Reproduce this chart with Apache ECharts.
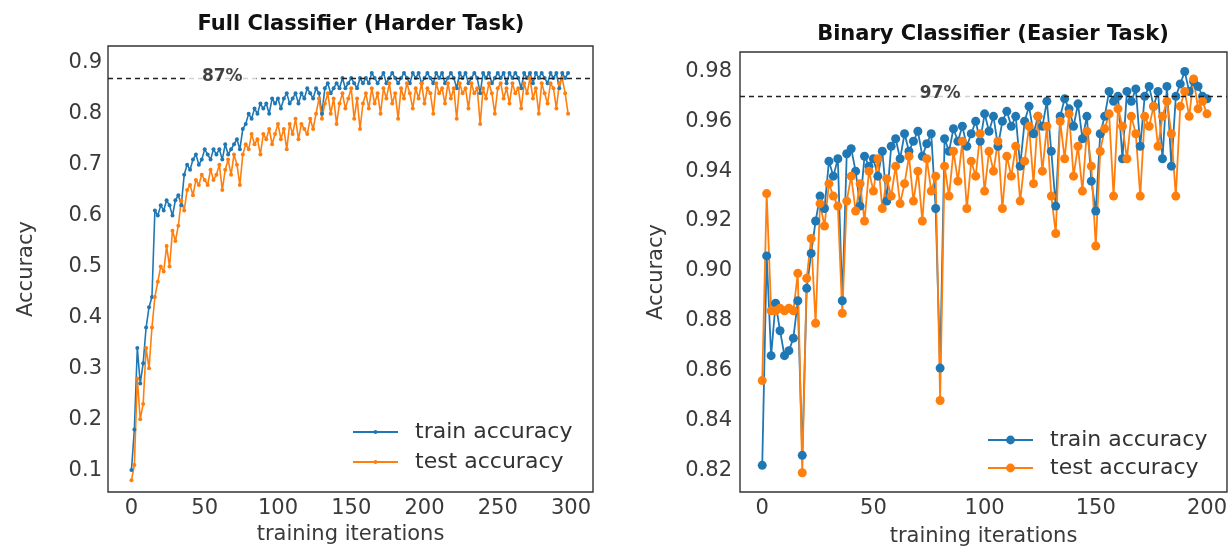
<!DOCTYPE html>
<html>
<head>
<meta charset="utf-8">
<title>Classifier accuracy</title>
<script src="https://cdn.jsdelivr.net/npm/echarts@6/dist/echarts.min.js"></script>
<style>
  html, body { margin: 0; padding: 0; background: #fff; }
  #chart { width: 1230px; height: 552px; }
</style>
</head>
<body>
<div id="chart"></div>
<script>
// ---- left panel: full classifier, one point every 2 iterations (0..298)
var leftStep = 2;
var leftTrain = [
  0.10, 0.18, 0.34, 0.27, 0.31, 0.38, 0.42, 0.44, 0.61, 0.60,   // 0-18
  0.62, 0.61, 0.63, 0.62, 0.60, 0.63, 0.64, 0.62, 0.68, 0.70,   // 20-38
  0.69, 0.71, 0.72, 0.70, 0.71, 0.73, 0.72, 0.71, 0.73, 0.72,   // 40-58
  0.73, 0.71, 0.74, 0.72, 0.73, 0.74, 0.75, 0.73, 0.77, 0.78,   // 60-78
  0.80, 0.79, 0.81, 0.80, 0.82, 0.81, 0.82, 0.80, 0.83, 0.82,   // 80-98
  0.83, 0.81, 0.83, 0.84, 0.82, 0.83, 0.84, 0.82, 0.84, 0.83,   // 100-118
  0.85, 0.84, 0.83, 0.85, 0.84, 0.80, 0.85, 0.86, 0.84, 0.85,   // 120-138
  0.86, 0.85, 0.87, 0.85, 0.86, 0.87, 0.86, 0.85, 0.87, 0.86,   // 140-158
  0.87, 0.86, 0.88, 0.87, 0.86, 0.87, 0.88, 0.86, 0.87, 0.88,   // 160-178
  0.87, 0.86, 0.87, 0.88, 0.87, 0.86, 0.88, 0.87, 0.88, 0.86,   // 180-198
  0.87, 0.88, 0.87, 0.86, 0.88, 0.87, 0.88, 0.86, 0.87, 0.88,   // 200-218
  0.87, 0.85, 0.88, 0.87, 0.88, 0.86, 0.87, 0.88, 0.87, 0.84,   // 220-238
  0.88, 0.87, 0.88, 0.86, 0.87, 0.88, 0.87, 0.88, 0.86, 0.88,   // 240-258
  0.87, 0.88, 0.87, 0.85, 0.88, 0.87, 0.88, 0.86, 0.88, 0.87,   // 260-278
  0.88, 0.87, 0.86, 0.88, 0.87, 0.88, 0.85, 0.88, 0.87, 0.88    // 280-298
];
var leftTest = [
  0.08, 0.11, 0.28, 0.20, 0.23, 0.34, 0.30, 0.38, 0.44, 0.47,
  0.50, 0.49, 0.54, 0.50, 0.57, 0.55, 0.58, 0.63, 0.61, 0.65,
  0.66, 0.64, 0.67, 0.66, 0.68, 0.67, 0.66, 0.69, 0.67, 0.68,
  0.70, 0.65, 0.69, 0.71, 0.68, 0.72, 0.70, 0.66, 0.72, 0.74,
  0.73, 0.76, 0.74, 0.75, 0.72, 0.76, 0.75, 0.77, 0.74, 0.76,
  0.78, 0.75, 0.77, 0.73, 0.78, 0.76, 0.79, 0.75, 0.78, 0.77,
  0.76, 0.79, 0.77, 0.80, 0.83, 0.79, 0.82, 0.84, 0.80, 0.83,
  0.78, 0.82, 0.84, 0.81, 0.83, 0.85, 0.79, 0.83, 0.77, 0.82,
  0.84, 0.81, 0.85, 0.82, 0.84, 0.80, 0.85, 0.83, 0.86, 0.82,
  0.84, 0.79, 0.85, 0.83, 0.86, 0.84, 0.81, 0.85, 0.83, 0.86,
  0.82, 0.85, 0.84, 0.80, 0.86, 0.84, 0.85, 0.82, 0.86, 0.83,
  0.85, 0.79, 0.86, 0.84, 0.85, 0.81, 0.86, 0.84, 0.85, 0.78,
  0.85, 0.83, 0.86, 0.84, 0.80, 0.85, 0.86, 0.83, 0.85, 0.82,
  0.86, 0.84, 0.85, 0.81, 0.86, 0.84, 0.87, 0.83, 0.85, 0.80,
  0.86, 0.84, 0.82, 0.86, 0.85, 0.81, 0.86, 0.87, 0.84, 0.80
];
var leftYTicks = [0.1, 0.2, 0.3, 0.4, 0.5, 0.6, 0.7, 0.8, 0.9];
var leftXTicks = [0, 50, 100, 150, 200, 250, 300];
var leftRef = 0.873;      // "87%" line
var leftRefLabelX = 62;

// ---- right panel: binary classifier, one point every 2 iterations (0..200)
var rightStep = 2;
var rightTrain = [
  0.822, 0.906, 0.866, 0.887, 0.876, 0.866, 0.868, 0.873, 0.888, 0.826,  // 0-18
  0.893, 0.907, 0.920, 0.930, 0.925, 0.944, 0.938, 0.945, 0.888, 0.947,  // 20-38
  0.949, 0.940, 0.926, 0.946, 0.942, 0.945, 0.938, 0.948, 0.928, 0.950,  // 40-58
  0.953, 0.945, 0.955, 0.948, 0.952, 0.956, 0.946, 0.951, 0.955, 0.925,  // 60-78
  0.861, 0.953, 0.948, 0.957, 0.952, 0.958, 0.950, 0.955, 0.960, 0.952,  // 80-98
  0.963, 0.956, 0.962, 0.950, 0.960, 0.964, 0.958, 0.962, 0.942, 0.960,  // 100-118
  0.966, 0.955, 0.962, 0.958, 0.968, 0.948, 0.926, 0.962, 0.969, 0.965,  // 120-138
  0.958, 0.967, 0.953, 0.962, 0.936, 0.924, 0.955, 0.962, 0.972, 0.968,  // 140-158
  0.970, 0.945, 0.972, 0.968, 0.973, 0.950, 0.970, 0.974, 0.966, 0.972,  // 160-178
  0.945, 0.974, 0.942, 0.970, 0.975, 0.980, 0.972, 0.976, 0.974, 0.970,  // 180-198
  0.969                                                                   // 200
];
var rightTest = [
  0.856, 0.931, 0.884, 0.884, 0.885, 0.884, 0.885, 0.884, 0.899, 0.819,
  0.897, 0.913, 0.879, 0.927, 0.918, 0.935, 0.930, 0.926, 0.883, 0.928,
  0.938, 0.924, 0.935, 0.920, 0.940, 0.932, 0.945, 0.925, 0.937, 0.930,
  0.942, 0.927, 0.935, 0.946, 0.928, 0.940, 0.920, 0.945, 0.932, 0.938,
  0.848, 0.942, 0.930, 0.948, 0.936, 0.952, 0.925, 0.944, 0.938, 0.955,
  0.932, 0.948, 0.940, 0.952, 0.925, 0.946, 0.938, 0.950, 0.928, 0.944,
  0.958, 0.935, 0.962, 0.940, 0.958, 0.930, 0.915, 0.960, 0.945, 0.963,
  0.938, 0.950, 0.932, 0.956, 0.942, 0.910, 0.948, 0.957, 0.963, 0.930,
  0.965, 0.958, 0.945, 0.962, 0.955, 0.930, 0.962, 0.958, 0.966, 0.950,
  0.962, 0.968, 0.955, 0.930, 0.966, 0.972, 0.962, 0.977, 0.965, 0.968,
  0.963
];
var rightYTicks = [0.82, 0.84, 0.86, 0.88, 0.90, 0.92, 0.94, 0.96, 0.98];
var rightXTicks = [0, 50, 100, 150, 200];
var rightRef = 0.971;     // "97%" line
var rightRefLabelX = 80;

var blue = '#1f77b4';
var orange = '#ff7f0e';
var font = 'DejaVu Sans';

function pairs(vals, step) {
  return vals.map(function (v, i) { return [i * step, v]; });
}

var chart = echarts.init(document.getElementById('chart'));

function axisText() {
  return { color: '#3a3a3a', fontSize: 21, fontFamily: font };
}

function refLine(y) {
  return {
    silent: true,
    symbol: 'none',
    label: { show: false },
    lineStyle: { color: '#222', type: [5, 4], width: 1.3 },
    data: [{ yAxis: y }]
  };
}

// white-boxed text sitting on the dashed reference line
function refLabel(name, xi, yi, x, y) {
  return {
    name: name, type: 'scatter', xAxisIndex: xi, yAxisIndex: yi, z: 10,
    symbolSize: 1, itemStyle: { color: 'rgba(0,0,0,0)' }, silent: true,
    data: [[x, y]],
    label: {
      show: true, position: 'inside', formatter: name,
      fontFamily: font, fontWeight: 'bold', fontSize: 17, color: '#111',
      backgroundColor: '#fff', padding: [2, 14]
    }
  };
}

var option = {
  animation: false,
  backgroundColor: '#fff',
  title: [
    { text: 'Full Classifier (Harder Task)', left: 356, top: 9, textAlign: 'center',
      textStyle: { fontFamily: font, fontWeight: 'bold', fontSize: 21, color: '#111' } },
    { text: 'Binary Classifier (Easier Task)', left: 988, top: 19, textAlign: 'center',
      textStyle: { fontFamily: font, fontWeight: 'bold', fontSize: 21, color: '#111' } }
  ],
  legend: [
    { data: ['train accuracy', 'test accuracy'], orient: 'vertical', left: 347, top: 416,
      itemWidth: 45, itemHeight: 5, itemGap: 8,
      textStyle: { fontFamily: font, fontSize: 22, color: '#333', padding: [0, 0, 0, 12] } },
    { data: ['train accuracy', 'test accuracy'], orient: 'vertical', left: 982, top: 424,
      itemWidth: 45, itemHeight: 11, itemGap: 6,
      textStyle: { fontFamily: font, fontSize: 22, color: '#333', padding: [0, 0, 0, 12] } }
  ],
  grid: [
    { left: 108, top: 46, width: 485, height: 446, show: true, borderColor: '#333', borderWidth: 1.4 },
    { left: 740, top: 52, width: 487, height: 448, show: true, borderColor: '#333', borderWidth: 1.4 }
  ],
  xAxis: [
    { type: 'value', gridIndex: 0, min: -16, max: 315,
      name: 'training iterations', nameLocation: 'middle', nameGap: 32,
      nameTextStyle: axisText(),
      axisLine: { show: false }, axisTick: { show: false }, splitLine: { show: false },
      axisLabel: Object.assign({ customValues: leftXTicks, margin: 6 }, axisText()) },
    { type: 'value', gridIndex: 1, min: -10, max: 209,
      name: 'training iterations', nameLocation: 'middle', nameGap: 34,
      nameTextStyle: axisText(),
      axisLine: { show: false }, axisTick: { show: false }, splitLine: { show: false },
      axisLabel: Object.assign({ customValues: rightXTicks, margin: 6 }, axisText()) }
  ],
  yAxis: [
    { type: 'value', gridIndex: 0, min: 0.057, max: 0.933,
      name: 'Accuracy', nameLocation: 'middle', nameGap: 71,
      nameTextStyle: axisText(),
      axisLine: { show: false }, axisTick: { show: false }, splitLine: { show: false },
      axisLabel: Object.assign({ customValues: leftYTicks, margin: 6,
        formatter: function (v) { return v.toFixed(1); } }, axisText()) },
    { type: 'value', gridIndex: 1, min: 0.8113, max: 0.9878,
      name: 'Accuracy', nameLocation: 'middle', nameGap: 73,
      nameTextStyle: axisText(),
      axisLine: { show: false }, axisTick: { show: false }, splitLine: { show: false },
      axisLabel: Object.assign({ customValues: rightYTicks, margin: 8,
        formatter: function (v) { return v.toFixed(2); } }, axisText()) }
  ],
  series: [
    { name: 'train accuracy', type: 'line', xAxisIndex: 0, yAxisIndex: 0,
      data: pairs(leftTrain, leftStep), color: blue,
      symbol: 'circle', symbolSize: 4, showAllSymbol: true,
      lineStyle: { width: 1.6 } },
    { name: 'test accuracy', type: 'line', xAxisIndex: 0, yAxisIndex: 0,
      data: pairs(leftTest, leftStep), color: orange,
      symbol: 'circle', symbolSize: 4, showAllSymbol: true,
      lineStyle: { width: 1.6 }, markLine: refLine(leftRef) },
    refLabel('87%', 0, 0, leftRefLabelX, leftRef),
    { name: 'train accuracy', type: 'line', xAxisIndex: 1, yAxisIndex: 1,
      data: pairs(rightTrain, rightStep), color: blue,
      symbol: 'circle', symbolSize: 9, showAllSymbol: true,
      lineStyle: { width: 1.8 } },
    { name: 'test accuracy', type: 'line', xAxisIndex: 1, yAxisIndex: 1,
      data: pairs(rightTest, rightStep), color: orange,
      symbol: 'circle', symbolSize: 9, showAllSymbol: true,
      lineStyle: { width: 1.8 }, markLine: refLine(rightRef) },
    refLabel('97%', 1, 1, rightRefLabelX, rightRef)
  ]
};

chart.setOption(option);
</script>
</body>
</html>
